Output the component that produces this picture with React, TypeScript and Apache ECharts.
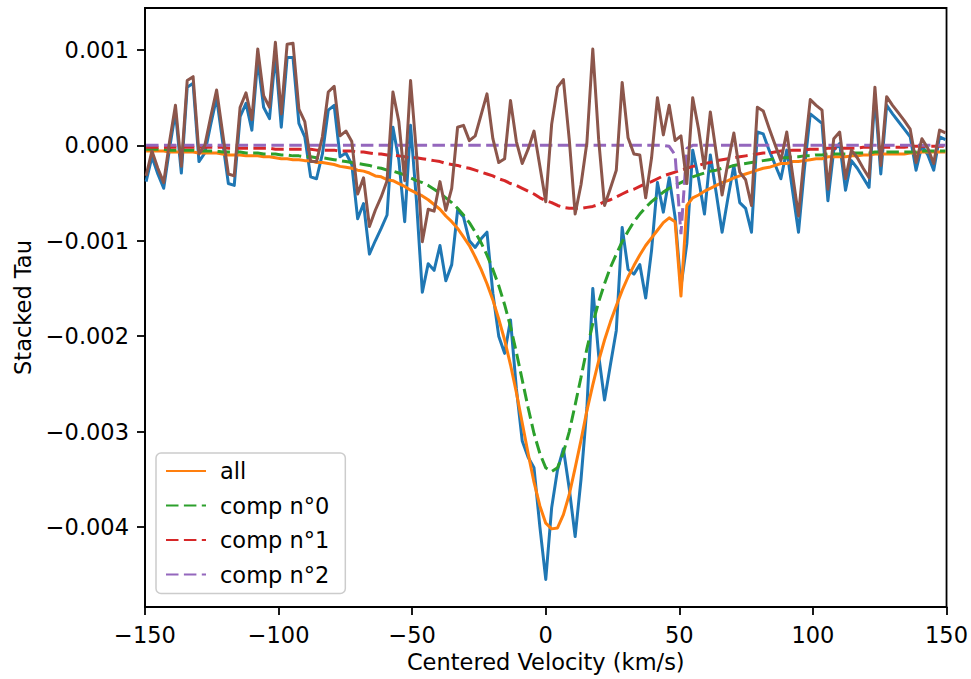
import React, { useEffect, useRef } from "react";
import * as echarts from "echarts";

// All optical-depth values below are given in units of 1e-4
const TAU_UNIT = 1e-4;

const velocity = [
  -149.6, -147.4, -145.2, -143.0, -140.8, -138.6, -136.4, -134.2, -132.0, -129.8,
  -127.6, -125.4, -123.2, -121.0, -118.8, -116.6, -114.4, -112.2, -110.0, -107.8,
  -105.6, -103.4, -101.2, -99.0, -96.8, -94.6, -92.4, -90.2, -88.0, -85.8,
  -83.6, -81.4, -79.2, -77.0, -74.8, -72.6, -70.4, -68.2, -66.0, -63.8,
  -61.6, -59.4, -57.2, -55.0, -52.8, -50.6, -48.4, -46.2, -44.0, -41.8,
  -39.6, -37.4, -35.2, -33.0, -30.8, -28.6, -26.4, -24.2, -22.0, -19.8,
  -17.6, -15.4, -13.2, -11.0, -8.8, -6.6, -4.4, -2.2, 0.0, 2.2,
  4.4, 6.6, 8.8, 11.0, 13.2, 15.4, 17.6, 19.8, 22.0, 24.2,
  26.4, 28.6, 30.8, 33.0, 35.2, 37.4, 39.6, 41.8, 44.0, 46.2,
  48.4, 50.6, 52.8, 55.0, 57.2, 59.4, 61.6, 63.8, 66.0, 68.2,
  70.4, 72.6, 74.8, 77.0, 79.2, 81.4, 83.6, 85.8, 88.0, 90.2,
  92.4, 94.6, 96.8, 99.0, 101.2, 103.4, 105.6, 107.8, 110.0, 112.2,
  114.4, 116.6, 118.8, 121.0, 123.2, 125.4, 127.6, 129.8, 132.0, 134.2,
  136.4, 138.6, 140.8, 143.0, 145.2, 147.4, 149.6,
];

const observed = [
  -3.8, -1.2, -3.0, -4.5, -0.3, 3.5, -2.9, 6.1, 6.5, -1.7,
  -0.8, 2.2, 5.0, 0.5, -4.0, -4.2, 3.0, 4.4, 1.6, 9.0,
  4.0, 2.8, 9.5, 1.9, 9.2, 9.2, 2.3, 0.9, -3.3, -3.5,
  -0.9, 3.7, 4.2, -1.2, -0.8, -2.0, -7.7, -6.1, -11.4, -10.0,
  -8.7, -7.3, 1.9, -1.5, -8.0, 2.1, -5.8, -15.4, -12.4, -13.1,
  -10.5, -14.2, -12.5, -6.8, -7.5, -10.0, -10.7, -9.8, -9.1, -15.5,
  -20.0, -21.8, -18.3, -25.5, -31.0, -32.7, -33.8, -40.0, -45.5, -38.0,
  -34.0, -31.8, -36.0, -41.0, -35.0, -27.5, -15.0, -22.0, -26.7, -23.0,
  -19.4, -8.6, -13.0, -13.5, -12.5, -16.0, -11.0, -3.9, -7.0, -3.4,
  -7.5, -14.8, -10.3, -0.5, -3.5, -7.2, -1.0, -5.0, -9.1, -5.5,
  -2.1, -6.0, -6.6, -9.1, 1.4, 1.2, -0.5, -2.0, -3.5, -0.5,
  -4.8, -9.1, -2.5, 3.3, 2.8, 2.3, -5.8, -0.5, 0.2, -4.7,
  -1.6, -2.4, -3.4, -4.4, 5.2, -3.0, 4.2, 3.3, 2.5, 1.7,
  0.9, -2.6, 0.0, -1.0, -2.6, 0.9, 0.6,
];

const fitAll = [
  -0.6, -0.6, -0.6, -0.6, -0.7, -0.7, -0.7, -0.7, -0.7, -0.8,
  -0.8, -0.8, -0.8, -0.9, -1.0, -1.0, -1.0, -1.1, -1.1, -1.1,
  -1.2, -1.2, -1.3, -1.4, -1.4, -1.5, -1.5, -1.6, -1.6, -1.8,
  -1.8, -1.9, -2.0, -2.2, -2.3, -2.4, -2.6, -2.7, -2.9, -3.2,
  -3.3, -3.6, -3.7, -4.0, -4.3, -4.7, -5.0, -5.3, -5.7, -6.2,
  -6.7, -7.4, -8.0, -8.7, -9.6, -10.5, -11.7, -13.0, -14.5, -16.2,
  -18.2, -20.4, -23.0, -25.9, -29.1, -32.3, -35.3, -37.8, -39.6, -40.2,
  -40.1, -38.7, -36.6, -33.8, -30.9, -27.8, -25.1, -22.6, -20.4, -18.5,
  -16.8, -15.2, -13.8, -12.6, -11.5, -10.5, -9.7, -8.9, -8.1, -7.6,
  -8.0, -15.8, -6.3, -5.5, -5.2, -4.8, -4.5, -4.2, -3.9, -3.7,
  -3.4, -3.2, -3.0, -2.8, -2.6, -2.4, -2.3, -2.1, -1.9, -1.9,
  -1.7, -1.7, -1.6, -1.5, -1.4, -1.4, -1.2, -1.2, -1.2, -1.2,
  -1.1, -1.1, -1.0, -1.0, -0.9, -0.9, -0.9, -0.9, -0.9, -0.9,
  -0.8, -0.8, -0.7, -0.7, -0.7, -0.7, -0.7,
];

const comp0 = [
  -0.4, -0.4, -0.4, -0.4, -0.5, -0.5, -0.5, -0.5, -0.5, -0.6,
  -0.6, -0.6, -0.6, -0.7, -0.7, -0.7, -0.7, -0.8, -0.8, -0.8,
  -0.9, -0.9, -0.9, -1.0, -1.0, -1.1, -1.1, -1.2, -1.2, -1.3,
  -1.3, -1.4, -1.5, -1.6, -1.7, -1.8, -1.9, -2.0, -2.1, -2.3,
  -2.4, -2.6, -2.7, -2.9, -3.1, -3.4, -3.7, -3.9, -4.2, -4.6,
  -5.0, -5.5, -6.0, -6.6, -7.3, -8.1, -9.1, -10.2, -11.5, -13.0,
  -14.7, -16.7, -19.0, -21.7, -24.6, -27.5, -30.2, -32.3, -33.8, -34.2,
  -33.8, -32.2, -30.0, -27.2, -24.3, -21.3, -18.7, -16.4, -14.5, -12.8,
  -11.4, -10.1, -9.0, -8.0, -7.2, -6.5, -5.9, -5.4, -4.9, -4.5,
  -4.2, -3.9, -3.6, -3.3, -3.1, -2.9, -2.7, -2.6, -2.4, -2.3,
  -2.1, -2.0, -1.9, -1.8, -1.7, -1.6, -1.5, -1.4, -1.3, -1.3,
  -1.2, -1.2, -1.1, -1.1, -1.0, -1.0, -0.9, -0.9, -0.9, -0.9,
  -0.8, -0.8, -0.8, -0.8, -0.7, -0.7, -0.7, -0.7, -0.7, -0.7,
  -0.7, -0.7, -0.6, -0.6, -0.6, -0.6, -0.6,
];

const comp1 = [
  -0.2, -0.2, -0.2, -0.2, -0.2, -0.2, -0.2, -0.2, -0.2, -0.2,
  -0.2, -0.2, -0.2, -0.2, -0.3, -0.3, -0.3, -0.3, -0.3, -0.3,
  -0.3, -0.3, -0.4, -0.4, -0.4, -0.4, -0.4, -0.4, -0.4, -0.5,
  -0.5, -0.5, -0.5, -0.6, -0.6, -0.6, -0.7, -0.7, -0.8, -0.9,
  -0.9, -1.0, -1.0, -1.1, -1.2, -1.3, -1.3, -1.4, -1.5, -1.6,
  -1.7, -1.9, -2.0, -2.1, -2.3, -2.4, -2.6, -2.8, -3.0, -3.2,
  -3.5, -3.7, -4.0, -4.2, -4.5, -4.8, -5.1, -5.5, -5.8, -6.0,
  -6.3, -6.5, -6.6, -6.6, -6.6, -6.5, -6.4, -6.2, -5.9, -5.7,
  -5.4, -5.1, -4.8, -4.6, -4.3, -4.0, -3.8, -3.5, -3.2, -3.0,
  -2.8, -2.6, -2.4, -2.2, -2.1, -1.9, -1.8, -1.6, -1.5, -1.4,
  -1.3, -1.2, -1.1, -1.0, -0.9, -0.8, -0.8, -0.7, -0.6, -0.6,
  -0.5, -0.5, -0.5, -0.4, -0.4, -0.4, -0.3, -0.3, -0.3, -0.3,
  -0.3, -0.3, -0.2, -0.2, -0.2, -0.2, -0.2, -0.2, -0.2, -0.2,
  -0.1, -0.1, -0.1, -0.1, -0.1, -0.1, -0.1,
];

const comp2 = [
  0, 0, 0, 0, 0, 0, 0, 0, 0, 0,
  0, 0, 0, 0, 0, 0, 0, 0, 0, 0,
  0, 0, 0, 0, 0, 0, 0, 0, 0, 0,
  0, 0, 0, 0, 0, 0, 0, 0, 0, 0,
  0, 0, 0, 0, 0, 0, 0, 0, 0, 0,
  0, 0, 0, 0, 0, 0, 0, 0, 0, 0,
  0, 0, 0, 0, 0, 0, 0, 0, 0, 0,
  0, 0, 0, 0, 0, 0, 0, 0, 0, 0,
  0, 0, 0, 0, 0, 0, 0, 0, 0, -0.1,
  -1.0, -9.3, -0.3, 0, 0, 0, 0, 0, 0, 0,
  0, 0, 0, 0, 0, 0, 0, 0, 0, 0,
  0, 0, 0, 0, 0, 0, 0, 0, 0, 0,
  0, 0, 0, 0, 0, 0, 0, 0, 0, 0,
  0, 0, 0, 0, 0, 0, 0,
];

const residual = [
  -3.2, -0.6, -2.4, -3.9, 0.4, 4.2, -2.2, 6.8, 7.2, -0.9,
  0.0, 3.0, 5.8, 1.4, -3.0, -3.2, 4.0, 5.5, 2.7, 10.1,
  5.2, 4.0, 10.8, 3.3, 10.6, 10.7, 3.8, 2.5, -1.7, -1.7,
  0.9, 5.6, 6.2, 1.0, 1.5, 0.4, -5.1, -3.4, -8.5, -6.8,
  -5.4, -3.7, 5.6, 2.5, -3.7, 6.8, -0.8, -10.1, -6.7, -6.9,
  -3.8, -6.8, -4.5, 1.9, 2.1, 0.5, 1.0, 3.2, 5.4, 0.7,
  -1.8, -1.4, 4.7, 0.4, -1.9, -0.4, 1.5, -2.2, -5.9, 2.2,
  6.1, 6.9, 0.6, -7.2, -4.1, 0.3, 10.1, 0.6, -6.3, -4.5,
  -2.6, 6.6, 0.8, -0.9, -1.0, -5.5, -1.3, 5.0, 1.1, 4.2,
  0.5, 1.0, -4.0, 5.0, 1.7, -2.4, 3.5, -0.8, -5.2, -1.8,
  1.3, -2.8, -3.6, -6.3, 4.0, 3.6, 1.8, 0.1, -1.6, 1.4,
  -3.1, -7.4, -0.9, 4.8, 4.2, 3.7, -4.6, 0.7, 1.4, -3.5,
  -0.5, -1.3, -2.4, -3.4, 6.1, -2.1, 5.1, 4.2, 3.4, 2.6,
  1.7, -1.8, 0.7, -0.3, -1.9, 1.6, 1.3,
];

const xTicks = [-150, -100, -50, 0, 50, 100, 150];
const yTicks = [-0.004, -0.003, -0.002, -0.001, 0, 0.001];
const legendNames = ["all", "comp n°0", "comp n°1", "comp n°2"];

const FONT = "'DejaVu Sans', 'Liberation Sans', sans-serif";
const MINUS = "\u2212";

function pairs(values: number[]) {
  return velocity.map((v, i) => [v, values[i] * TAU_UNIT]);
}

export default function App() {
  const ref = useRef<HTMLDivElement>(null);

  useEffect(() => {
    if (!ref.current) return;
    const chart = echarts.init(ref.current, undefined, { renderer: "svg" });
    const dash = [12.5, 5.4];
    const lw = 3;

    const option: any = {
      animation: false,
      backgroundColor: "#ffffff",
      textStyle: { fontFamily: FONT },
      grid: {
        left: 145,
        top: 8,
        width: 805,
        height: 599,
        show: true,
        borderColor: "#000",
        borderWidth: 1.8,
        backgroundColor: "transparent",
        containLabel: false,
      },
      xAxis: {
        type: "value",
        min: -150,
        max: 150,
        interval: 50,
        name: "Centered Velocity (km/s)",
        nameLocation: "middle",
        nameGap: 42,
        nameTextStyle: { fontFamily: FONT, fontSize: 22.5, color: "#000" },
        axisLine: { show: true, onZero: false, lineStyle: { color: "#000", width: 1.8 } },
        axisTick: {
          show: true,
          inside: false,
          length: 8,
          lineStyle: { color: "#000", width: 1.8 },
          customValues: xTicks,
        },
        axisLabel: {
          show: true,
          margin: 16,
          fontFamily: FONT,
          fontSize: 22.5,
          color: "#000",
          customValues: xTicks,
          formatter: (v: number) => (v < 0 ? MINUS + Math.abs(v) : String(v)),
        },
        splitLine: { show: false },
      },
      yAxis: {
        type: "value",
        min: -0.004839,
        max: 0.00144,
        splitNumber: 6,
        name: "Stacked Tau",
        nameLocation: "middle",
        nameRotate: 90,
        nameGap: 110,
        nameTextStyle: { fontFamily: FONT, fontSize: 22.5, color: "#000" },
        axisLine: { show: true, onZero: false, lineStyle: { color: "#000", width: 1.8 } },
        axisTick: {
          show: true,
          inside: false,
          length: 8,
          lineStyle: { color: "#000", width: 1.8 },
          customValues: yTicks,
        },
        axisLabel: {
          show: true,
          margin: 16,
          fontFamily: FONT,
          fontSize: 22.5,
          color: "#000",
          customValues: yTicks,
          formatter: (v: number) =>
            Math.abs(v) < 1e-9 ? "0.000" : v < 0 ? MINUS + Math.abs(v).toFixed(3) : v.toFixed(3),
        },
        splitLine: { show: false },
      },
      legend: {
        data: legendNames,
        orient: "vertical",
        left: 156,
        top: 453,
        itemWidth: 40,
        itemHeight: 24,
        itemGap: 10.5,
        padding: [6, 16, 7, 9],
        backgroundColor: "rgba(255,255,255,0.8)",
        borderColor: "#cccccc",
        borderWidth: 1.5,
        borderRadius: 5,
        selectedMode: false,
        itemStyle: { opacity: 0 },
        textStyle: {
          fontFamily: FONT,
          fontSize: 22.5,
          color: "#000",
          lineHeight: 24,
          padding: [0, 0, 0, 9],
        },
      },
      series: [
        {
          name: "data",
          type: "line",
          data: pairs(observed),
          symbol: "none",
          color: "#1f77b4",
          lineStyle: { color: "#1f77b4", width: lw, join: "round" },
          silent: true,
        },
        {
          name: "all",
          type: "line",
          data: pairs(fitAll),
          symbol: "none",
          color: "#ff7f0e",
          lineStyle: { color: "#ff7f0e", width: lw, join: "round" },
          silent: true,
        },
        {
          name: "comp n°0",
          type: "line",
          data: pairs(comp0),
          symbol: "none",
          color: "#2ca02c",
          lineStyle: { color: "#2ca02c", width: lw, type: dash },
          silent: true,
        },
        {
          name: "comp n°1",
          type: "line",
          data: pairs(comp1),
          symbol: "none",
          color: "#d62728",
          lineStyle: { color: "#d62728", width: lw, type: dash },
          silent: true,
        },
        {
          name: "comp n°2",
          type: "line",
          data: pairs(comp2),
          symbol: "none",
          color: "#9467bd",
          lineStyle: { color: "#9467bd", width: lw, type: dash },
          silent: true,
        },
        {
          name: "residual",
          type: "line",
          data: pairs(residual),
          symbol: "none",
          color: "#8c564b",
          lineStyle: { color: "#8c564b", width: lw, join: "round" },
          silent: true,
        },
      ],
    };

    chart.setOption(option);
    return () => {
      chart.dispose();
    };
  }, []);

  return (
    <div
      ref={ref}
      style={{ position: "fixed", left: 0, top: 0, width: 971, height: 679, background: "#fff" }}
    />
  );
}
